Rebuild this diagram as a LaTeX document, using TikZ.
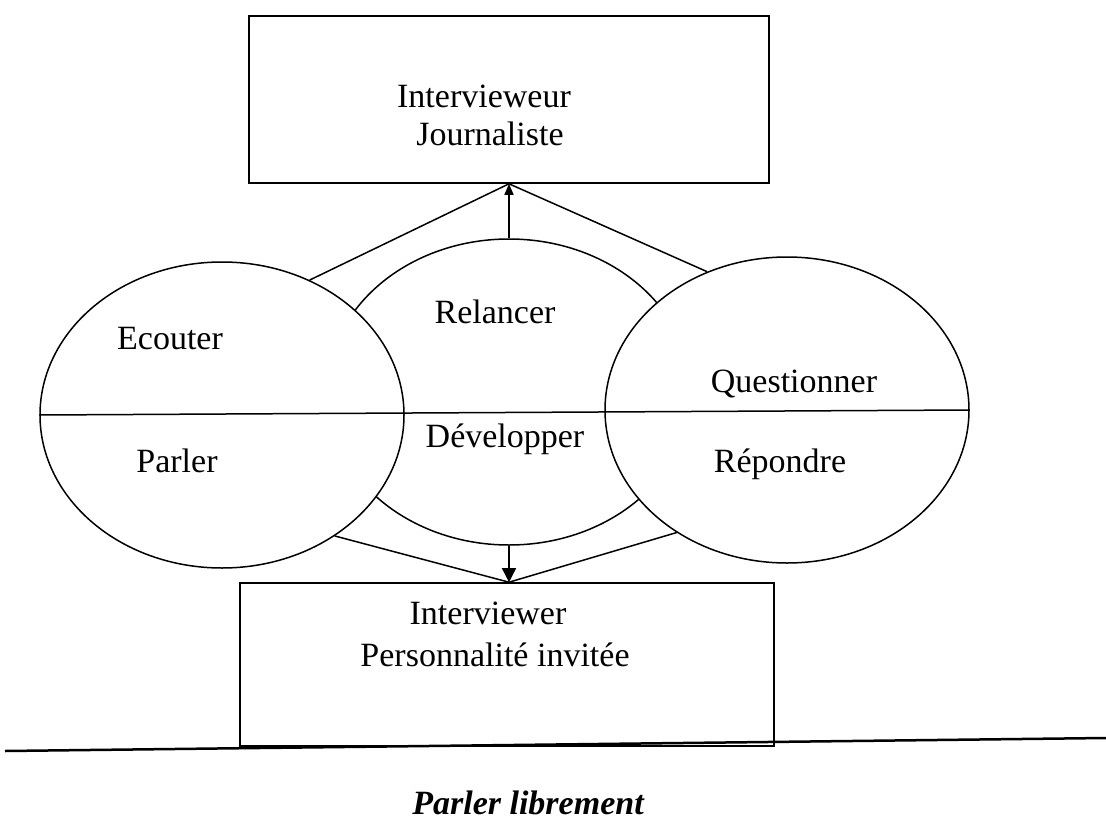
\documentclass[tikz,border=0pt]{standalone}
\usepackage{fontspec}
\setmainfont{Liberation Serif}
\usetikzlibrary{shapes.geometric,arrows.meta}
\begin{document}
\begin{tikzpicture}[x=1pt,y=-1pt,
  ln/.style={line width=1.5pt, black},
  boxn/.style={draw, line width=1.6pt, rectangle, inner sep=0pt},
  oval/.style={draw, ellipse, line width=1.5pt, fill=white, minimum width=364pt, minimum height=306pt, inner sep=0pt},
  lbl/.style={anchor=base, inner sep=0pt, font=\fontsize{34}{38}\selectfont},
  ttl/.style={anchor=base, inner sep=0pt, font=\fontsize{34}{40}\selectfont\bfseries\itshape},
  tipa/.style={-{Triangle[width=9pt,length=11pt]}},
  tipb/.style={-{Triangle[width=14pt,length=14pt]}}
]
\useasboundingbox (0,0) rectangle (1106,827);
\fill[white] (0,0) rectangle (1106,827);

% boxes
\node[boxn, minimum width=520pt, minimum height=167pt] (top) at (509,99.5) {};
\node[boxn, minimum width=534pt, minimum height=163pt] (bot) at (507,664.5) {};

% ellipses
\node[oval] (M) at (509,392) {};
\node[oval] (L) at (222,415) {};
\node[oval] (R) at (787,410) {};

% meeting points of the connectors
\coordinate (tt) at (M.north |- top.south);
\coordinate (bt) at (M.south |- bot.north);

% connectors
\draw[ln] (L.57.5) -- (tt) -- (R.120.5);
\draw[ln, tipa] (M.north) -- (tt);
\draw[ln] (L.-47) -- (bt) -- (R.-132);
\draw[ln, tipb] (M.south) -- (bt);

% dividing line
\draw[ln] (L.west) -- (R.east);

% ground line
\coordinate (gl) at (5,751);
\coordinate (gr) at (1106,738);
\draw[line width=2.5pt] (gl) -- (gr);

% labels
\node[lbl] (t1) at (484,107) {Intervieweur};
\node[lbl] (t2) at (490,145) {Journaliste};
\node[lbl] (b1) at (488,624) {Interviewer};
\node[lbl] (b2) at (495,666) {Personnalité invitée};
\node[lbl] (e1) at (170,349) {Ecouter};
\node[lbl] (e2) at (177,472) {Parler};
\node[lbl] (m1) at (495,323) {Relancer};
\node[lbl] (m2) at (505,447) {Développer};
\node[lbl] (r1) at (794,392) {Questionner};
\node[lbl] (r2) at (780,472) {Répondre};
\node[ttl] (cap) at (528,814) {Parler librement};
\end{tikzpicture}
\end{document}
